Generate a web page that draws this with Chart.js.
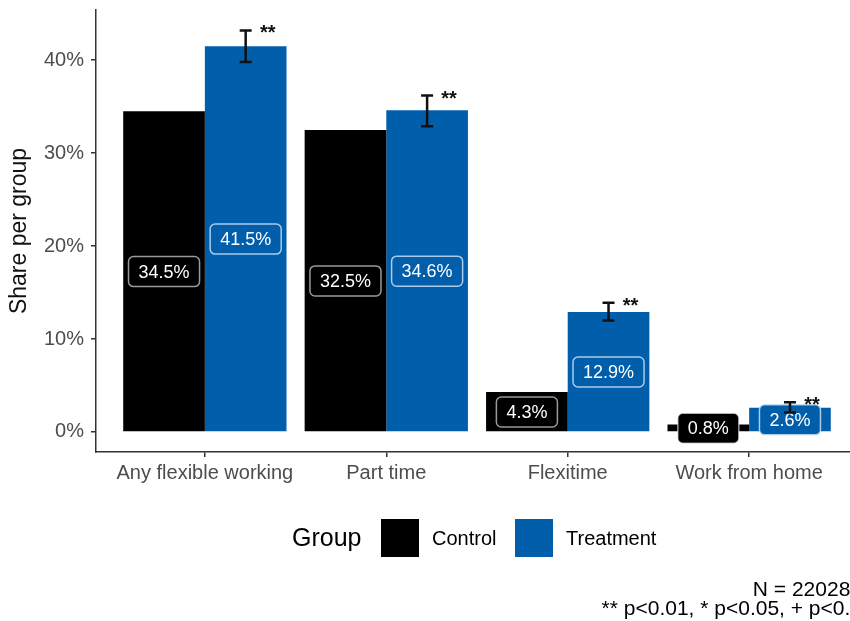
<!DOCTYPE html>
<html>
<head>
<meta charset="utf-8">
<script src="https://cdn.jsdelivr.net/npm/chart.js@4.4.1/dist/chart.umd.min.js"></script>
<style>
    html, body { margin: 0; padding: 0; background: #fff; overflow: hidden; }
    #wrap { width: 880px; height: 621px; }
</style>
</head>
<body>
<div id="wrap"><canvas id="shareChart" width="880" height="621"></canvas></div>
<script>
// Data
const categories = ['Any flexible working', 'Part time', 'Flexitime', 'Work from home'];
const groups = ['Control', 'Treatment'];
const controlValues = [34.5, 32.5, 4.3, 0.8];
const treatmentValues = [41.5, 34.6, 12.9, 2.6];
const treatmentErrLow = [39.8, 32.9, 12.0, 2.1];
const treatmentErrHigh = [43.2, 36.2, 13.9, 3.2];
const treatmentStars = ['**', '**', '**', '**'];
const yTicks = [0, 10, 20, 30, 40];
const captionLines = ['N = 220282', '** p<0.01, * p<0.05, + p<0.1'];

const FONT = '"Liberation Sans", Arial, sans-serif';
const groupColors = ['#000000', '#005EAB'];
const labelBorders = ['rgba(255,255,255,0.6)', 'rgba(200,222,245,0.85)'];

// value labels in rounded boxes, at half bar height
const barLabels = {
    id: 'barLabels',
    afterDatasetsDraw(chart) {
        const ctx = chart.ctx;
        const yScale = chart.scales.y;
        ctx.save();
        ctx.font = '18px ' + FONT;
        ctx.textAlign = 'center';
        ctx.textBaseline = 'middle';
        chart.data.datasets.forEach((ds, di) => {
            const meta = chart.getDatasetMeta(di);
            meta.data.forEach((bar, i) => {
                const v = ds.data[i].y;
                const text = v.toFixed(1) + '%';
                const w = ctx.measureText(text).width + 20;
                const h = 30;
                const x = bar.x;
                const y = yScale.getPixelForValue(v / 2);
                ctx.beginPath();
                ctx.roundRect(x - w / 2, y - h / 2, w, h, 5);
                ctx.fillStyle = groupColors[di];
                ctx.fill();
                ctx.lineWidth = 1.5;
                ctx.strokeStyle = labelBorders[di];
                ctx.stroke();
                ctx.fillStyle = '#ffffff';
                ctx.fillText(text, x, y + 1);
            });
        });
        ctx.restore();
    }
};

// error bars and significance stars on the treatment bars
const errorBars = {
    id: 'errorBars',
    afterDatasetsDraw(chart) {
        const ctx = chart.ctx;
        const yScale = chart.scales.y;
        const meta = chart.getDatasetMeta(1);
        ctx.save();
        ctx.strokeStyle = '#111';
        ctx.lineWidth = 2.5;
        ctx.fillStyle = '#111';
        ctx.font = 'bold 20px ' + FONT;
        ctx.textAlign = 'center';
        ctx.textBaseline = 'alphabetic';
        meta.data.forEach((bar, i) => {
            const x = bar.x;
            const top = yScale.getPixelForValue(treatmentErrHigh[i]);
            const bottom = yScale.getPixelForValue(treatmentErrLow[i]);
            ctx.beginPath();
            ctx.moveTo(x, top); ctx.lineTo(x, bottom);
            ctx.moveTo(x - 6, top); ctx.lineTo(x + 6, top);
            ctx.moveTo(x - 6, bottom); ctx.lineTo(x + 6, bottom);
            ctx.stroke();
            ctx.fillText(treatmentStars[i], x + 22, top + 9);
        });
        ctx.restore();
    }
};

// legend row and caption below the plot
const legendCaption = {
    id: 'legendCaption',
    afterDraw(chart) {
        const ctx = chart.ctx;
        ctx.save();
        ctx.textBaseline = 'middle';
        ctx.textAlign = 'left';
        ctx.fillStyle = '#000';
        ctx.font = '25px ' + FONT;
        ctx.fillText('Group', 292, 539);
        const keyX = [381, 515];
        groups.forEach((g, i) => {
            ctx.fillStyle = groupColors[i];
            ctx.fillRect(keyX[i], 519, 38, 38);
            ctx.fillStyle = '#000';
            ctx.font = '20px ' + FONT;
            ctx.fillText(g, keyX[i] + 51, 539);
        });
        ctx.textAlign = 'right';
        ctx.font = '21px ' + FONT;
        captionLines.forEach((line, i) => {
            ctx.fillText(line, 862, 590 + i * 19);
        });
        ctx.restore();
    }
};

new Chart(document.getElementById('shareChart'), {
    type: 'bar',
    data: {
        datasets: [
            {
                label: groups[0],
                data: controlValues.map((v, i) => ({ x: i, y: v })),
                backgroundColor: groupColors[0],
                barPercentage: 1,
                categoryPercentage: 0.9
            },
            {
                label: groups[1],
                data: treatmentValues.map((v, i) => ({ x: i, y: v })),
                backgroundColor: groupColors[1],
                barPercentage: 1,
                categoryPercentage: 0.9
            }
        ]
    },
    options: {
        responsive: false,
        animation: false,
        layout: { padding: { top: 10, right: 22, left: 0, bottom: 0 } },
        plugins: {
            legend: { display: false },
            tooltip: { enabled: false }
        },
        scales: {
            x: {
                type: 'linear',
                min: -0.6,
                max: 3.6,
                offset: false,
                grid: { offset: false, drawOnChartArea: false, drawTicks: true, tickLength: 5, color: '#333', lineWidth: 1.5 },
                border: { display: true, color: '#333', width: 1.5 },
                ticks: {
                    stepSize: 1,
                    includeBounds: false,
                    autoSkip: false,
                    maxRotation: 0,
                    padding: 4,
                    color: '#4d4d4d',
                    font: { size: 20, family: FONT },
                    callback: v => categories[v] ?? ''
                },
                afterFit(s) { s.height = 169; s.paddingLeft = 0; s.paddingRight = 0; }
            },
            y: {
                min: -2.16,
                max: 45.4,
                grid: { drawOnChartArea: false, drawTicks: true, tickLength: 5, color: '#333', lineWidth: 1.5 },
                border: { display: true, color: '#333', width: 1.5 },
                afterBuildTicks(s) { s.ticks = yTicks.map(v => ({ value: v })); },
                ticks: {
                    padding: 7,
                    color: '#4d4d4d',
                    font: { size: 20, family: FONT },
                    callback: v => v + '%'
                },
                title: {
                    display: true,
                    text: 'Share per group',
                    color: '#111',
                    font: { size: 23, family: FONT },
                    padding: { top: 6, bottom: 0 }
                },
                afterFit(s) { s.width = 96; s.paddingTop = 0; s.paddingBottom = 0; }
            }
        }
    },
    plugins: [barLabels, errorBars, legendCaption]
});
</script>
</body>
</html>
